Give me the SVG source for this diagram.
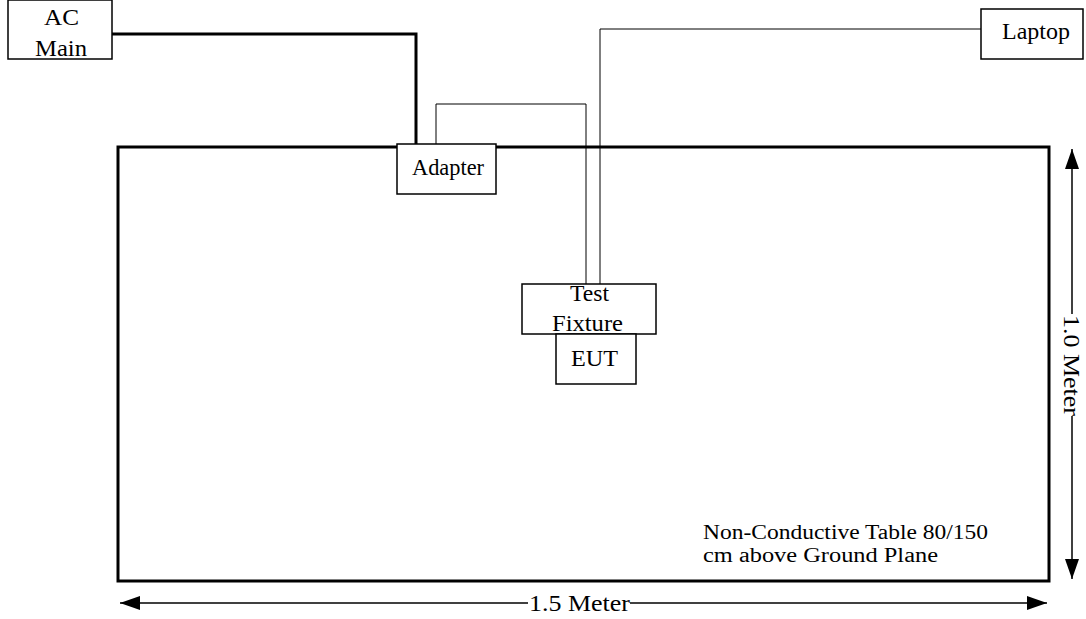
<svg xmlns="http://www.w3.org/2000/svg" width="1086" height="619" viewBox="0 0 1086 619">
<style>
text{font-family:"Liberation Serif","DejaVu Serif",serif;font-size:24px;fill:#000}
.note{font-size:20px}
.box{fill:#fff;stroke:#000;stroke-width:1.5}
.thin{fill:none;stroke:#000;stroke-width:1}
.thick{fill:none;stroke:#000;stroke-width:3}
.dim{fill:none;stroke:#000;stroke-width:1.5}
</style>
<defs>
<marker id="ah2" viewBox="0 0 10 10" refX="10" refY="5" markerWidth="20" markerHeight="14" markerUnits="userSpaceOnUse" orient="auto-start-reverse" preserveAspectRatio="none">
<path d="M0,0 L10,5 L0,10 Z" fill="#000"/>
</marker>
</defs>
<rect id="table" x="118" y="147" width="931" height="434" fill="#fff" stroke="#000" stroke-width="3"/>
<g id="connectors">
<path class="thick" d="M112,34 H416 V147"/>
<path class="thin" d="M436,144 V104 H586 V284"/>
<path class="thin" d="M981,29 H600 V284"/>
<line class="dim" x1="1072" y1="149" x2="1072" y2="314" marker-start="url(#ah2)"/>
<line class="dim" x1="1072" y1="416" x2="1072" y2="579" marker-end="url(#ah2)"/>
<line class="dim" x1="120" y1="603" x2="528" y2="603" marker-start="url(#ah2)"/>
<line class="dim" x1="630" y1="603" x2="1047" y2="603" marker-end="url(#ah2)"/>
</g>
<g id="ac-main">
<rect class="box" x="8" y="0" width="104" height="59"/>
<text x="44" y="25" textLength="35" lengthAdjust="spacingAndGlyphs">AC</text>
<text x="35" y="56" textLength="52" lengthAdjust="spacingAndGlyphs">Main</text>
</g>
<g id="adapter">
<rect class="box" x="397" y="144" width="99" height="50"/>
<text x="412" y="175" textLength="72" lengthAdjust="spacingAndGlyphs">Adapter</text>
</g>
<g id="laptop">
<rect class="box" x="981" y="9" width="102" height="50"/>
<text x="1002" y="39" textLength="68" lengthAdjust="spacingAndGlyphs">Laptop</text>
</g>
<g id="test-fixture">
<rect class="box" x="522" y="284" width="134" height="50"/>
<text x="570" y="301" textLength="39" lengthAdjust="spacingAndGlyphs">Test</text>
<text x="552" y="331" textLength="71" lengthAdjust="spacingAndGlyphs">Fixture</text>
</g>
<g id="eut">
<rect class="box" x="556" y="334" width="80" height="50"/>
<text x="571" y="366" textLength="47" lengthAdjust="spacingAndGlyphs">EUT</text>
</g>
<g id="labels">
<text class="note" x="703" y="539" textLength="285" lengthAdjust="spacingAndGlyphs">Non-Conductive Table 80/150</text>
<text class="note" x="703" y="562" textLength="235" lengthAdjust="spacingAndGlyphs">cm above Ground Plane</text>
<text x="529" y="611" textLength="101" lengthAdjust="spacingAndGlyphs">1.5 Meter</text>
<text transform="translate(1064,315) rotate(90)" x="0" y="0" textLength="101" lengthAdjust="spacingAndGlyphs">1.0 Meter</text>
</g>
</svg>
